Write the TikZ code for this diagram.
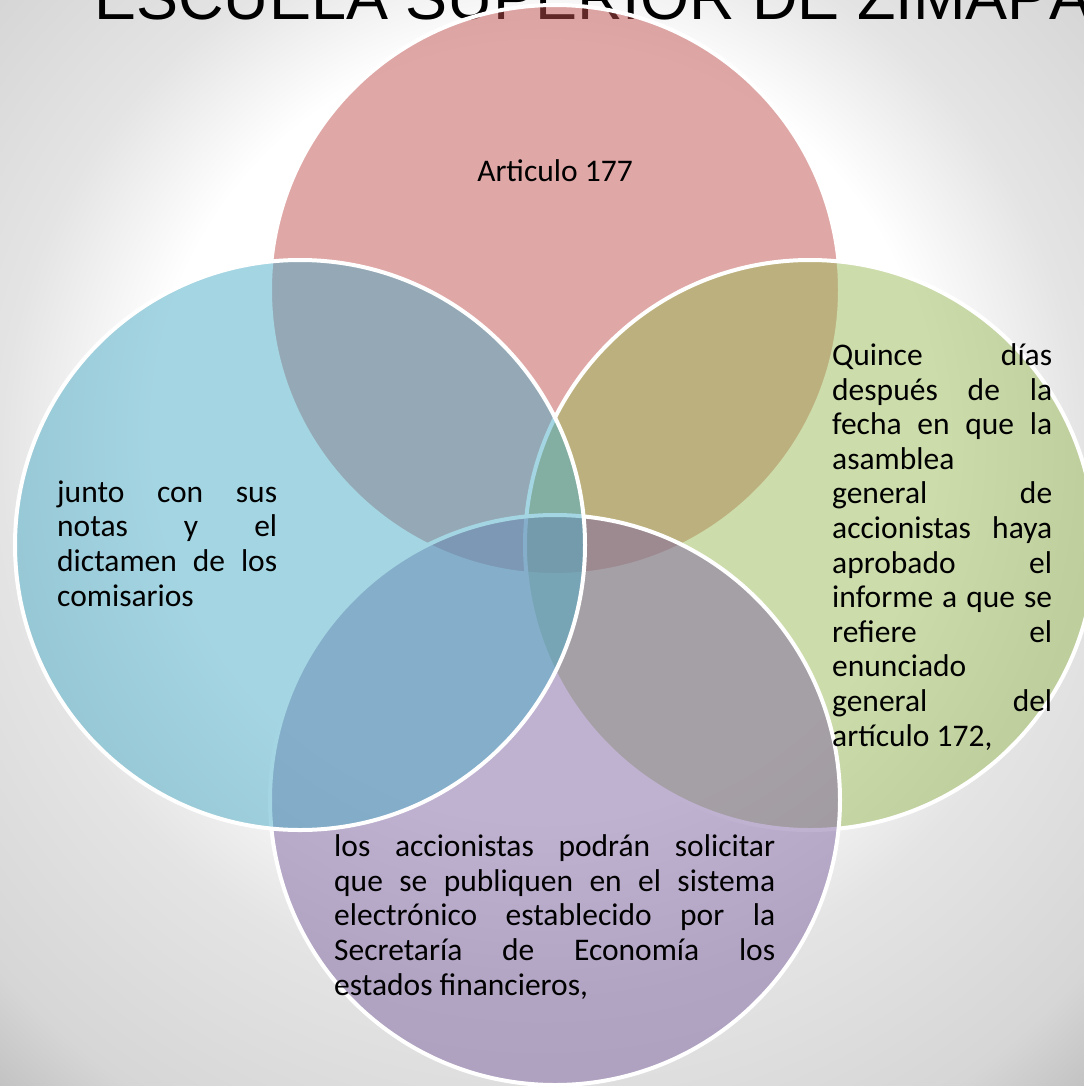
\documentclass[tikz,border=0pt]{standalone}
\usepackage{fontspec}
\setmainfont{Carlito}
\newfontfamily\titlefont{Liberation Sans}

\definecolor{vennred}{HTML}{C0504D}
\definecolor{venngreen}{HTML}{9BBB59}
\definecolor{vennpurple}{HTML}{8064A2}
\definecolor{vennblue}{HTML}{4BACC6}
\definecolor{bgA}{RGB}{228,228,228}
\definecolor{bgB}{RGB}{214,214,214}
\definecolor{bgC}{RGB}{194,194,194}
\definecolor{bgD}{RGB}{184,184,184}

\pgfdeclareradialshading{slidebg}{\pgfpoint{0bp}{8bp}}{color(0bp)=(white); color(18bp)=(white); color(25bp)=(bgA); color(33.5bp)=(bgB); color(37bp)=(bgC); color(50bp)=(bgD)}

\newcommand{\jline}[2]{\makebox[#1][s]{#2}}

\begin{document}
\begin{tikzpicture}[x=1bp,y=-1bp,
	venn/.style={draw=white, line width=4bp, fill opacity=0.5},
	txt/.style={inner sep=0, align=left, font=\fontsize{31.5bp}{34.6bp}\selectfont}]
		\useasboundingbox (0,0) rectangle (1084,1086);
		
		%background
		\shade[shading=slidebg] (0,0) rectangle (1084,1086);
		
		%title
		\node[anchor=base west, inner sep=0, font=\titlefont\fontsize{63bp}{63bp}\selectfont] (titulo) at (94,19) {ESCUELA SUPERIOR DE ZIMAPÁN};
		
		%circles
		\draw[venn, fill=vennred] (555,290) circle[radius=285];
		\draw[venn, fill=venngreen] (810,545) circle[radius=285];
		\draw[venn, fill=vennpurple] (555,800) circle[radius=285];
		\draw[venn, fill=vennblue] (300,545) circle[radius=285];
		
		%texts (anchored at the last line)
		\node[txt, anchor=base] (articulo) at (555,181) {Articulo 177};
		
		\node[txt, anchor=base west] (notas) at (57,606) {\jline{220bp}{junto con sus}\\
			\jline{220bp}{notas y el}\\
			\jline{220bp}{dictamen de los}\\
			comisarios};
		
		\node[txt, anchor=base west] (quince) at (832,746) {\jline{220bp}{Quince días}\\
			\jline{220bp}{después de la}\\
			\jline{220bp}{fecha en que la}\\
			asamblea\\
			\jline{220bp}{general de}\\
			\jline{220bp}{accionistas haya}\\
			\jline{220bp}{aprobado el}\\
			\jline{220bp}{informe a que se}\\
			\jline{220bp}{refiere el}\\
			enunciado\\
			\jline{220bp}{general del}\\
			artículo 172,};
		
		\node[txt, anchor=base west] (accionistas) at (334,995) {\jline{441bp}{los accionistas podrán solicitar}\\
			\jline{441bp}{que se publiquen en el sistema}\\
			\jline{441bp}{electrónico establecido por la}\\
			\jline{441bp}{Secretaría de Economía los}\\
			estados financieros,};
\end{tikzpicture}
\end{document}
